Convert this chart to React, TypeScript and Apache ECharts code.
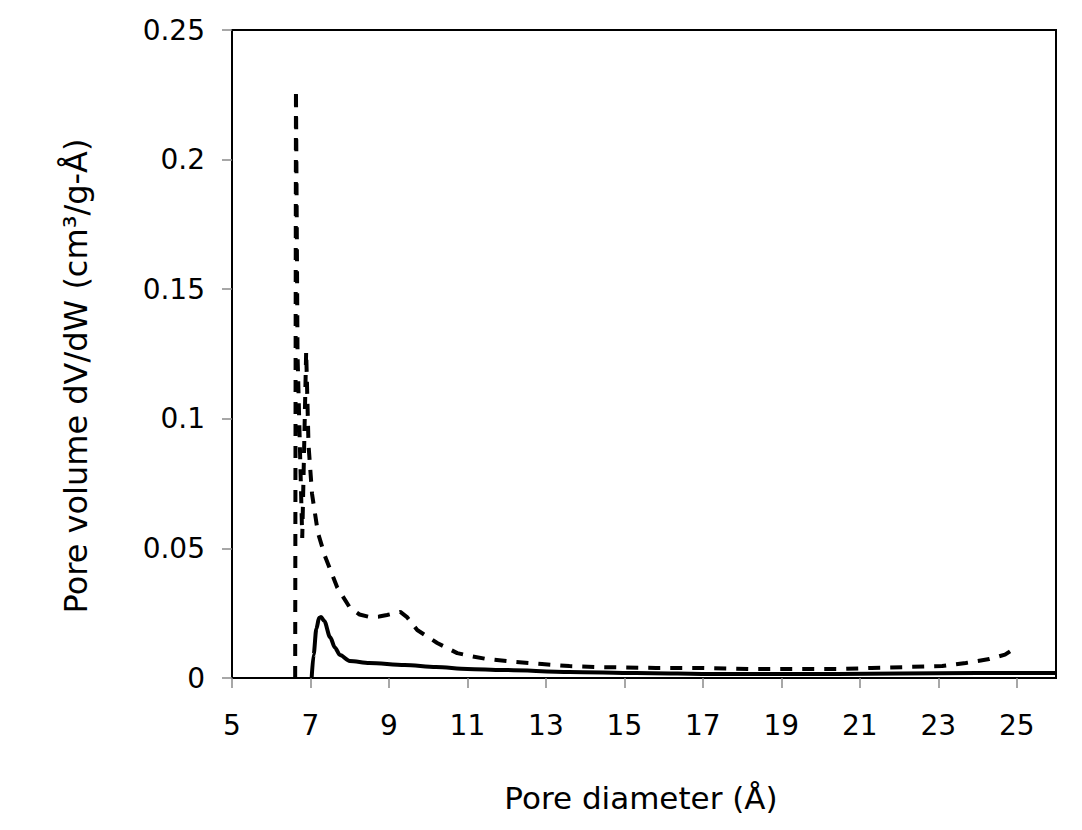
import React, { useEffect, useRef } from "react";
import * as echarts from "echarts";

const xTicks = [5, 7, 9, 11, 13, 15, 17, 19, 21, 23, 25];
const yTicks = [0, 0.05, 0.1, 0.15, 0.2, 0.25];
const yTickLabels = ["0", "0.05", "0.1", "0.15", "0.2", "0.25"];

// dashed series: pore diameter (Å) and dV/dW
const dashedX = [6.61, 6.63, 6.67, 6.79, 6.89, 6.95, 7.04, 7.19, 7.37, 7.5, 7.68, 8.01, 8.25, 8.52, 8.75, 8.95, 9.15, 9.29, 9.46, 9.72, 10.23, 10.74, 11.07, 11.5, 12.2, 12.9, 13.6, 14.4, 15.8, 16.9, 18.2, 19.6, 20.6, 21.3, 22.1, 23.1, 23.7, 24.3, 24.7, 25.0];
const dashedY = [0, 0.227, 0.125, 0.054, 0.126, 0.09, 0.071, 0.056, 0.047, 0.042, 0.035, 0.027, 0.0245, 0.0235, 0.0237, 0.0243, 0.025, 0.0255, 0.0235, 0.0185, 0.0135, 0.0096, 0.0085, 0.0073, 0.0062, 0.0054, 0.0046, 0.0042, 0.0039, 0.0039, 0.0035, 0.0035, 0.0035, 0.0039, 0.0042, 0.0046, 0.0058, 0.0073, 0.009, 0.012];

// solid series
const solidX = [7.03, 7.08, 7.15, 7.22, 7.27, 7.35, 7.5, 7.62, 7.75, 8.0, 8.5, 9.4, 10.2, 11.0, 11.9, 13.6, 15.3, 17.4, 20.4, 22.0, 24.0, 26.0];
const solidY = [0, 0.009, 0.019, 0.0232, 0.0235, 0.022, 0.0158, 0.0118, 0.0089, 0.0066, 0.0058, 0.005, 0.0042, 0.0035, 0.0031, 0.0023, 0.0019, 0.0015, 0.0015, 0.0017, 0.0019, 0.0019];

const FONT = "DejaVu Sans";

export default function App() {
  const ref = useRef<HTMLDivElement>(null);
  useEffect(() => {
    if (!ref.current) return;
    const chart = echarts.init(ref.current, null, { renderer: "svg" });
    chart.setOption({
      animation: false,
      backgroundColor: "#fff",
      grid: {
        left: 232,
        top: 30,
        right: 26,
        bottom: 152,
        show: true,
        borderColor: "#000",
        borderWidth: 2,
        backgroundColor: "transparent",
      },
      xAxis: {
        type: "value",
        min: 5,
        max: 26,
        interval: 2,
        axisLine: { show: true, lineStyle: { color: "#000", width: 2 } },
        axisTick: {
          show: true,
          inside: false,
          length: 10,
          customValues: xTicks,
          lineStyle: { color: "#8a8a8a", width: 1.5 },
        },
        axisLabel: {
          customValues: xTicks,
          margin: 33,
          fontFamily: FONT,
          fontSize: 28,
          color: "#000",
        },
        splitLine: { show: false },
      },
      yAxis: {
        type: "value",
        min: 0,
        max: 0.25,
        interval: 0.05,
        axisLine: { show: true, lineStyle: { color: "#000", width: 2 } },
        axisTick: {
          show: true,
          inside: false,
          length: 10,
          lineStyle: { color: "#8a8a8a", width: 1.5 },
        },
        axisLabel: {
          margin: 27,
          fontFamily: FONT,
          fontSize: 28,
          color: "#000",
          formatter: (v: number) => {
            const i = yTicks.findIndex((t) => Math.abs(t - v) < 1e-9);
            return i >= 0 ? yTickLabels[i] : "";
          },
        },
        splitLine: { show: false },
      },
      graphic: [
        {
          type: "text",
          x: 641,
          y: 798,
          style: {
            text: "Pore diameter (Å)",
            fontFamily: FONT,
            fontSize: 31,
            fill: "#000",
            align: "center",
            verticalAlign: "middle",
          },
        },
        {
          type: "text",
          x: 76,
          y: 376,
          rotation: Math.PI / 2,
          style: {
            text: "Pore volume dV/dW (cm³/g-Å)",
            fontFamily: FONT,
            fontSize: 32,
            fill: "#000",
            align: "center",
            verticalAlign: "middle",
          },
        },
      ],
      series: [
        {
          type: "line",
          name: "dashed",
          data: dashedX.map((x, i) => [x, dashedY[i]]),
          showSymbol: false,
          lineStyle: { color: "#000", width: 4, type: [12, 10] },
          z: 3,
        },
        {
          type: "line",
          name: "solid",
          data: solidX.map((x, i) => [x, solidY[i]]),
          showSymbol: false,
          smooth: 0.3,
          smoothMonotone: "x",
          lineStyle: { color: "#000", width: 4 },
          z: 4,
        },
      ],
    });
    return () => chart.dispose();
  }, []);
  return (
    <div
      ref={ref}
      style={{ position: "fixed", left: 0, top: 0, width: 1082, height: 830 }}
    />
  );
}
